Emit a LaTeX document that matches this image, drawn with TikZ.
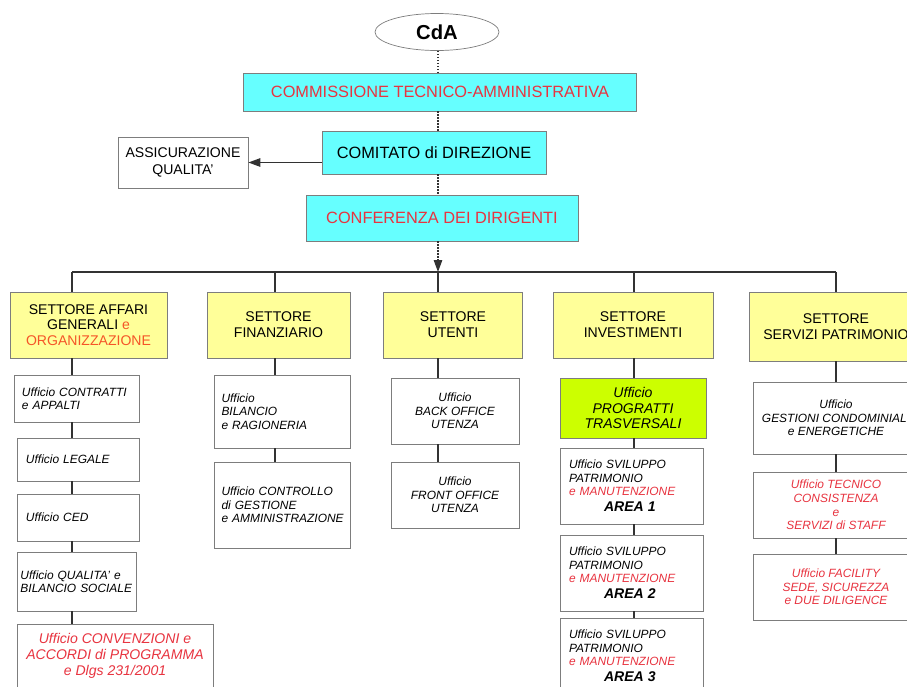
\documentclass[tikz,border=0pt]{standalone}
\usepackage{fontspec}
\setmainfont{Liberation Sans}
\usepackage{tikz}
\usetikzlibrary{arrows.meta}
\usetikzlibrary{arrows, positioning, shapes.geometric}
\definecolor{ciano}{RGB}{102,255,255}
\definecolor{giallo}{RGB}{255,255,153}
\definecolor{verde}{RGB}{204,255,0}
\definecolor{rosso}{RGB}{232,52,64}
\definecolor{arancio}{RGB}{245,85,40}
\definecolor{bordo}{RGB}{125,125,125}
\definecolor{linea}{RGB}{50,50,50}
\hyphenpenalty=10000

\begin{document}
\begin{tikzpicture}[x=0.2mm, y=-0.2mm]
	\tikzstyle{every node}=[draw=bordo, line width=0.4pt, inner sep=0pt, align=center, fill=white]
	\tikzstyle{vertice}=[fill=ciano, font=\fontsize{9.3}{11}\selectfont]
	\tikzstyle{settore}=[fill=giallo, font=\fontsize{8}{9}\selectfont]
	\tikzstyle{ufficio}=[font=\fontsize{6.8}{7.7}\selectfont\itshape]
	\tikzstyle{sinistra}=[align=left, inner xsep=1.8mm]
	\tikzstyle{filo}=[draw=linea, line width=0.7pt]
	\tikzstyle{punti}=[draw=linea, line width=0.7pt, densely dotted]
	\tikzstyle{freccia}=[-{Triangle[length=2.4mm,width=1.7mm]}]

	\useasboundingbox (0,0) rectangle (907,686);
	\clip (0,0) rectangle (907,686);

	% vertice
	\node[ellipse, minimum width=24.8mm, minimum height=7.4mm, font=\fontsize{11.5}{13}\selectfont\bfseries] (cda) at (437,32) {CdA};
	\node[vertice, minimum width=78.6mm, minimum height=7.6mm, text=rosso] (cta) at (440,92) {COMMISSIONE TECNICO-AMMINISTRATIVA};
	\node[vertice, minimum width=44.8mm, minimum height=8.6mm] (cdd) at (434,152.5) {COMITATO di DIREZIONE};
	\node[minimum width=26mm, minimum height=10.2mm, font=\fontsize{8}{9.4}\selectfont] (aq) at (183,162.5) {ASSICURAZIONE\\QUALITA'};
	\node[vertice, minimum width=54.4mm, minimum height=9.2mm, text=rosso] (cdir) at (442,218) {CONFERENZA DEI DIRIGENTI};

	% settori
	\coordinate (b1) at (72,272);
	\coordinate (b2) at (275,272);
	\coordinate (b3) at (438,272);
	\coordinate (b4) at (634,272);
	\coordinate (b5) at (836,272);
	\node[settore, minimum width=31.4mm, minimum height=13.2mm] (s1) at (88.5,325) {SETTORE AFFARI\\GENERALI \textcolor{arancio}{e}\\\textcolor{arancio}{ORGANIZZAZIONE}};
	\node[settore, minimum width=28.6mm, minimum height=13.2mm] (s2) at (278.5,325) {SETTORE\\FINANZIARIO};
	\node[settore, minimum width=27.8mm, minimum height=13.2mm] (s3) at (453,325) {SETTORE\\UTENTI};
	\node[settore, minimum width=32mm, minimum height=13.2mm] (s4) at (633,325) {SETTORE\\INVESTIMENTI};
	\node[settore, minimum width=34.8mm, minimum height=13.8mm] (s5) at (836,326.5) {SETTORE\\SERVIZI PATRIMONIO};

	% uffici affari generali
	\node[ufficio, sinistra, inner xsep=1.6mm, text width=21.8mm, minimum height=9.4mm] (uc1) at (76.5,398.5) {Ufficio CONTRATTI\\e APPALTI};
	\node[ufficio, sinistra, text width=20.8mm, minimum height=8.6mm] (uc2) at (78,459.5) {Ufficio LEGALE};
	\node[ufficio, sinistra, text width=20.8mm, minimum height=9.4mm] (uc3) at (78,517.5) {Ufficio CED};
	\node[ufficio, sinistra, inner xsep=0.7mm, text width=22.4mm, minimum height=11.8mm] (uc4) at (76.5,581.5) {Ufficio QUALITA' e\\BILANCIO SOCIALE};
	\node[ufficio, minimum width=39.2mm, minimum height=12.8mm, text=rosso, font=\fontsize{8}{9.2}\selectfont\itshape] (uc5) at (115,656) {Ufficio CONVENZIONI e\\ACCORDI di PROGRAMMA\\e Dlgs 231/2001};

	% uffici finanziario
	\node[ufficio, sinistra, inner xsep=1.5mm, text width=24.2mm, minimum height=14.6mm] (ub1) at (282,411.5) {Ufficio\\BILANCIO\\e RAGIONERIA};
	\node[ufficio, sinistra, inner xsep=1.5mm, text width=24.2mm, minimum height=17.2mm] (ub2) at (282,505) {Ufficio CONTROLLO\\di GESTIONE\\\mbox{e AMMINISTRAZIONE}};

	% uffici utenti
	\node[ufficio, minimum width=25.6mm, minimum height=13.2mm] (uu1) at (455,411) {Ufficio\\BACK OFFICE\\UTENZA};
	\node[ufficio, minimum width=25.6mm, minimum height=13.2mm] (uu2) at (455,495) {Ufficio\\FRONT OFFICE\\UTENZA};

	% uffici investimenti
	\node[ufficio, fill=verde, minimum width=29.2mm, minimum height=12mm, font=\fontsize{8}{8.8}\selectfont\itshape] (ui0) at (633,408) {Ufficio\\PROGRATTI\\TRASVERSALI};
	\node[ufficio, sinistra, text width=25mm, minimum height=15.2mm] (ui1) at (631.5,486) {Ufficio SVILUPPO\\PATRIMONIO\\\textcolor{rosso}{e MANUTENZIONE}\\[1.5pt]\hspace*{7mm}{\fontsize{8}{9}\selectfont\bfseries AREA 1}};
	\node[ufficio, sinistra, text width=25mm, minimum height=15.2mm] (ui2) at (631.5,573) {Ufficio SVILUPPO\\PATRIMONIO\\\textcolor{rosso}{e MANUTENZIONE}\\[1.5pt]\hspace*{7mm}{\fontsize{8}{9}\selectfont\bfseries AREA 2}};
	\node[ufficio, sinistra, text width=25mm, minimum height=15.2mm] (ui3) at (631.5,656) {Ufficio SVILUPPO\\PATRIMONIO\\\textcolor{rosso}{e MANUTENZIONE}\\[1.5pt]\hspace*{7mm}{\fontsize{8}{9}\selectfont\bfseries AREA 3}};

	% uffici servizi patrimonio
	\node[ufficio, minimum width=33.2mm, minimum height=14.4mm] (us1) at (836,418) {Ufficio\\GESTIONI CONDOMINIALI\\e ENERGETICHE};
	\node[ufficio, minimum width=33.2mm, minimum height=13.2mm, text=rosso] (us2) at (836,505) {Ufficio TECNICO\\CONSISTENZA\\e\\SERVIZI di STAFF};
	\node[ufficio, minimum width=33.2mm, minimum height=13.2mm, text=rosso] (us3) at (836,587) {Ufficio FACILITY\\SEDE, SICUREZZA\\e DUE DILIGENCE};

	% collegamenti
	\draw [punti] (b3 |- cda.south) -- (b3 |- cta.north);
	\draw [punti] (b3 |- cta.south) -- (b3 |- cdd.north);
	\draw [punti] (b3 |- cdd.south) -- (b3 |- cdir.north);
	\draw [punti, freccia] (b3 |- cdir.south) -- (b3);
	\draw [filo, freccia] (cdd.west |- aq.east) -- (aq.east);
	\draw [filo] (b1) -- (b5);
	\draw [filo] (b1) -- (b1 |- s1.north);
	\draw [filo] (b2) -- (b2 |- s2.north);
	\draw [filo] (b3) -- (b3 |- s3.north);
	\draw [filo] (b4) -- (b4 |- s4.north);
	\draw [filo] (b5) -- (b5 |- s5.north);
	\draw [filo] (b1 |- s1.south) -- (b1 |- uc1.north);
	\draw [filo] (b1 |- uc1.south) -- (b1 |- uc2.north);
	\draw [filo] (b1 |- uc2.south) -- (b1 |- uc3.north);
	\draw [filo] (b1 |- uc3.south) -- (b1 |- uc4.north);
	\draw [filo] (b1 |- uc4.south) -- (b1 |- uc5.north);
	\draw [filo] (b2 |- s2.south) -- (b2 |- ub1.north);
	\draw [filo] (b2 |- ub1.south) -- (b2 |- ub2.north);
	\draw [filo] (b3 |- s3.south) -- (b3 |- uu1.north);
	\draw [filo] (b3 |- uu1.south) -- (b3 |- uu2.north);
	\draw [filo] (b4 |- s4.south) -- (b4 |- ui0.north);
	\draw [filo] (b4 |- ui0.south) -- (b4 |- ui1.north);
	\draw [filo] (b4 |- ui1.south) -- (b4 |- ui2.north);
	\draw [filo] (b4 |- ui2.south) -- (b4 |- ui3.north);
	\draw [filo] (b5 |- s5.south) -- (b5 |- us1.north);
	\draw [filo] (b5 |- us1.south) -- (b5 |- us2.north);
	\draw [filo] (b5 |- us2.south) -- (b5 |- us3.north);
\end{tikzpicture}
\end{document}
